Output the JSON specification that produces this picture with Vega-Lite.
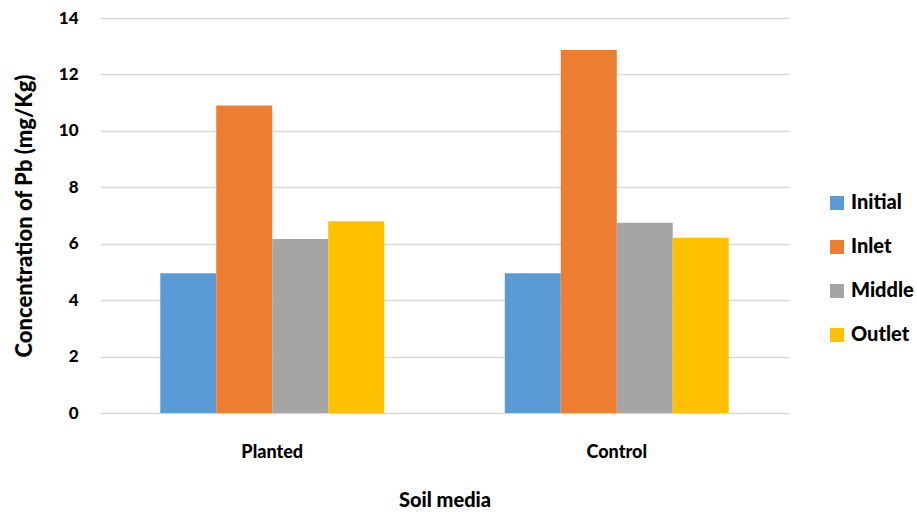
{
  "$schema": "https://vega.github.io/schema/vega-lite/v6.json",
  "width": 689,
  "height": 395,
  "autosize": {"type": "none"},
  "padding": {"left": 100, "top": 18, "right": 128, "bottom": 99},
  "background": "white",
  "config": {
    "view": {"stroke": null},
    "font": "Lato",
    "axis": {"labelFont": "Lato", "titleFont": "Lato", "labelColor": "#000000", "titleColor": "#000000"},
    "legend": {"labelFont": "Lato"}
  },
  "data": {
    "values": [
      {"media": "Planted", "location": "Initial", "pb": 4.95},
      {"media": "Planted", "location": "Inlet", "pb": 10.9},
      {"media": "Planted", "location": "Middle", "pb": 6.17},
      {"media": "Planted", "location": "Outlet", "pb": 6.8},
      {"media": "Control", "location": "Initial", "pb": 4.95},
      {"media": "Control", "location": "Inlet", "pb": 12.87},
      {"media": "Control", "location": "Middle", "pb": 6.74},
      {"media": "Control", "location": "Outlet", "pb": 6.21}
    ]
  },
  "mark": {"type": "bar"},
  "encoding": {
    "x": {
      "field": "media",
      "type": "nominal",
      "sort": ["Planted", "Control"],
      "scale": {"paddingInner": 0.35, "paddingOuter": 0.175},
      "axis": {
        "title": "Soil media",
        "titleFontSize": 20,
        "titleFontWeight": 900,
        "titlePadding": 29,
        "labelAngle": 0,
        "labelFontSize": 18,
        "labelFontWeight": 900,
        "labelPadding": 30,
        "ticks": false,
        "domain": false
      }
    },
    "xOffset": {
      "field": "location",
      "type": "nominal",
      "sort": ["Initial", "Inlet", "Middle", "Outlet"],
      "scale": {"paddingInner": 0, "paddingOuter": 0}
    },
    "y": {
      "field": "pb",
      "type": "quantitative",
      "scale": {"domain": [0, 14]},
      "axis": {
        "title": "Concentration of Pb (mg/Kg)",
        "titleFontSize": 22,
        "titleFontWeight": 900,
        "titlePadding": 22,
        "values": [0, 2, 4, 6, 8, 10, 12, 14],
        "labelFontSize": 17,
        "labelFontWeight": 900,
        "labelPadding": 22,
        "ticks": false,
        "domain": false,
        "grid": true,
        "gridColor": "#D9D9D9",
        "gridWidth": 1.5
      }
    },
    "color": {
      "field": "location",
      "type": "nominal",
      "sort": ["Initial", "Inlet", "Middle", "Outlet"],
      "scale": {
        "domain": ["Initial", "Inlet", "Middle", "Outlet"],
        "range": ["#5B9BD5", "#ED7D31", "#A5A5A5", "#FFC000"]
      },
      "legend": {
        "title": null,
        "orient": "none",
        "legendX": 727,
        "legendY": 175,
        "symbolType": "square",
        "symbolSize": 196,
        "symbolStrokeWidth": 0,
        "labelFontSize": 20,
        "labelFontWeight": 900,
        "labelColor": "#000000",
        "labelOffset": 4,
        "rowPadding": 24
      }
    }
  }
}
